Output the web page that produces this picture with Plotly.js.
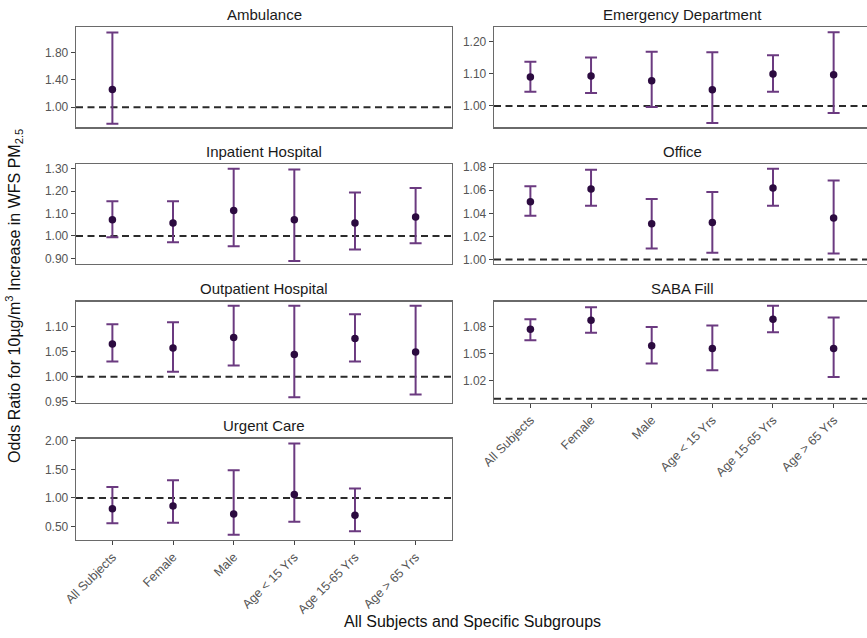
<!DOCTYPE html>
<html>
<head>
<meta charset="utf-8">
<script src="https://cdn.plot.ly/plotly-3.0.1.min.js"></script>
<style>html,body{margin:0;padding:0;background:#fff;}#chart{width:867px;height:638px;}</style>
</head>
<body>
<div id="chart"></div>
<script>
// ---------- data ----------
const categories = ['All Subjects', 'Female', 'Male', 'Age < 15 Yrs', 'Age 15-65 Yrs', 'Age > 65 Yrs'];
const panelTitles = ['Ambulance', 'Emergency Department', 'Inpatient Hospital', 'Office', 'Outpatient Hospital', 'SABA Fill', 'Urgent Care'];
const referenceOR = 1.0;

const ambulanceOR = [1.26];
const ambulanceLo = [0.76];
const ambulanceHi = [2.09];

const edOR = [1.090, 1.093, 1.078, 1.050, 1.099, 1.097];
const edLo = [1.044, 1.040, 0.997, 0.947, 1.044, 0.978];
const edHi = [1.137, 1.150, 1.168, 1.167, 1.157, 1.229];

const inpatientOR = [1.072, 1.058, 1.113, 1.072, 1.058, 1.084];
const inpatientLo = [0.994, 0.972, 0.954, 0.888, 0.940, 0.967];
const inpatientHi = [1.154, 1.155, 1.299, 1.296, 1.193, 1.213];

const officeOR = [1.050, 1.061, 1.031, 1.032, 1.062, 1.036];
const officeLo = [1.038, 1.0465, 1.0097, 1.006, 1.0465, 1.0052];
const officeHi = [1.0634, 1.0777, 1.0525, 1.0585, 1.0786, 1.0685];

const outpatientOR = [1.065, 1.057, 1.078, 1.044, 1.076, 1.049];
const outpatientLo = [1.030, 1.010, 1.022, 0.959, 1.030, 0.9645];
const outpatientHi = [1.104, 1.108, 1.141, 1.141, 1.124, 1.141];

const sabaOR = [1.077, 1.087, 1.0585, 1.0556, 1.088, 1.0556];
const sabaLo = [1.0648, 1.073, 1.0389, 1.0315, 1.0737, 1.0241];
const sabaHi = [1.0881, 1.1012, 1.0793, 1.0811, 1.103, 1.090];

const urgentOR = [0.812, 0.859, 0.719, 1.059, 0.695];
const urgentLo = [0.554, 0.566, 0.355, 0.584, 0.414];
const urgentHi = [1.193, 1.311, 1.487, 1.955, 1.164];

const ambulanceTicks = [1.00, 1.40, 1.80];
const edTicks = [1.00, 1.10, 1.20];
const inpatientTicks = [0.90, 1.00, 1.10, 1.20, 1.30];
const officeTicks = [1.00, 1.02, 1.04, 1.06, 1.08];
const outpatientTicks = [0.95, 1.00, 1.05, 1.10];
const sabaTicks = [1.02, 1.05, 1.08];
const urgentTicks = [0.50, 1.00, 1.50, 2.00];

// ---------- layout geometry ----------
const W = 867, H = 638;
const colX = { L: [76, 452], R: [494, 867] };
const rowY = [[27, 127.5], [164.3, 264], [301.7, 402.5], [438.7, 539.7]];
const xRange = { L: [-0.6, 5.6], R: [-0.6, 5.55] };

const panels = [
  { title: panelTitles[0], col: 'L', row: 0, est: ambulanceOR, lo: ambulanceLo, hi: ambulanceHi, ticks: ambulanceTicks, yr: [0.705, 2.17], xlab: false },
  { title: panelTitles[1], col: 'R', row: 0, est: edOR, lo: edLo, hi: edHi, ticks: edTicks, yr: [0.933, 1.245], xlab: false },
  { title: panelTitles[2], col: 'L', row: 1, est: inpatientOR, lo: inpatientLo, hi: inpatientHi, ticks: inpatientTicks, yr: [0.875, 1.319], xlab: false },
  { title: panelTitles[3], col: 'R', row: 1, est: officeOR, lo: officeLo, hi: officeHi, ticks: officeTicks, yr: [0.9962, 1.0824], xlab: false },
  { title: panelTitles[4], col: 'L', row: 2, est: outpatientOR, lo: outpatientLo, hi: outpatientHi, ticks: outpatientTicks, yr: [0.9487, 1.149], xlab: false },
  { title: panelTitles[5], col: 'R', row: 2, est: sabaOR, lo: sabaLo, hi: sabaHi, ticks: sabaTicks, yr: [0.9958, 1.1074], xlab: true },
  { title: panelTitles[6], col: 'L', row: 3, est: urgentOR, lo: urgentLo, hi: urgentHi, ticks: urgentTicks, yr: [0.267, 2.04], xlab: true }
];

const FONT = 'Liberation Sans, Arial, Helvetica, sans-serif';
const traces = [];
const layout = {
  width: W, height: H,
  margin: { l: 0, r: 0, t: 0, b: 0 },
  paper_bgcolor: '#ffffff', plot_bgcolor: '#ffffff',
  showlegend: false,
  font: { family: FONT, color: '#1a1a1a' },
  annotations: [], shapes: []
};

panels.forEach((p, i) => {
  const n = i + 1;
  const xa = n === 1 ? 'xaxis' : 'xaxis' + n;
  const ya = n === 1 ? 'yaxis' : 'yaxis' + n;
  const xr = n === 1 ? 'x' : 'x' + n;
  const yr = n === 1 ? 'y' : 'y' + n;
  const cx = colX[p.col];
  const ry = rowY[p.row];
  const xs = categories.slice(0, p.est.length);

  layout[xa] = {
    domain: [cx[0] / W, cx[1] / W], anchor: yr,
    type: 'category', categoryorder: 'array', categoryarray: categories,
    range: xRange[p.col], fixedrange: true,
    showgrid: false, zeroline: false,
    showline: true, mirror: true, linecolor: '#6a6a6a', linewidth: 1.3,
    ticks: p.xlab ? 'outside' : '', ticklen: 4, tickcolor: '#444', tickwidth: 1,
    showticklabels: p.xlab, tickangle: -45,
    tickfont: { family: FONT, size: 12.5, color: '#555555' }
  };
  layout[ya] = {
    domain: [1 - ry[1] / H, 1 - ry[0] / H], anchor: xr,
    range: p.yr, fixedrange: true,
    tickvals: p.ticks, tickformat: '.2f',
    showgrid: false, zeroline: false,
    showline: true, mirror: p.col === 'L', linecolor: '#6a6a6a', linewidth: 1.3,
    ticks: 'outside', ticklen: 4, tickcolor: '#444', tickwidth: 1,
    tickfont: { family: FONT, size: 12, color: '#555555' }
  };

  layout.shapes.push({
    type: 'line', xref: xr + ' domain', yref: yr,
    x0: 0, x1: 1, y0: referenceOR, y1: referenceOR, layer: 'below',
    line: { color: '#2b2b2b', width: 2, dash: '7px,4.5px' }
  });

  layout.annotations.push({
    text: p.title, xref: 'paper', yref: 'paper',
    x: ((cx[0] + (p.col === 'R' ? 870 : cx[1])) / 2) / W,
    y: 1 - (ry[0] - 13) / H,
    xanchor: 'center', yanchor: 'middle', showarrow: false,
    font: { family: FONT, size: 15, color: '#1a1a1a' }
  });

  traces.push({
    type: 'scatter', mode: 'markers', x: xs, y: p.est,
    xaxis: xr, yaxis: yr, hoverinfo: 'skip',
    marker: { color: '#2c0b40', size: 7.5 },
    error_y: {
      type: 'data', symmetric: false,
      array: p.est.map((v, k) => p.hi[k] - v),
      arrayminus: p.est.map((v, k) => v - p.lo[k]),
      color: '#6b3a80', thickness: 2, width: 6
    }
  });
});

layout.annotations.push({
  text: 'All Subjects and Specific Subgroups', xref: 'paper', yref: 'paper',
  x: 472 / W, y: 1 - 621 / H, xanchor: 'center', yanchor: 'middle', showarrow: false,
  font: { family: FONT, size: 16, color: '#111111' }
});
layout.annotations.push({
  text: 'Odds Ratio for 10µg/m<sup>3</sup> Increase in WFS PM<sub>2.5</sub>',
  xref: 'paper', yref: 'paper', textangle: -90,
  x: 14 / W, y: 1 - 296 / H, xanchor: 'center', yanchor: 'middle', showarrow: false,
  font: { family: FONT, size: 16, color: '#111111' }
});

Plotly.newPlot('chart', traces, layout, { staticPlot: true, displayModeBar: false });
</script>
</body>
</html>
